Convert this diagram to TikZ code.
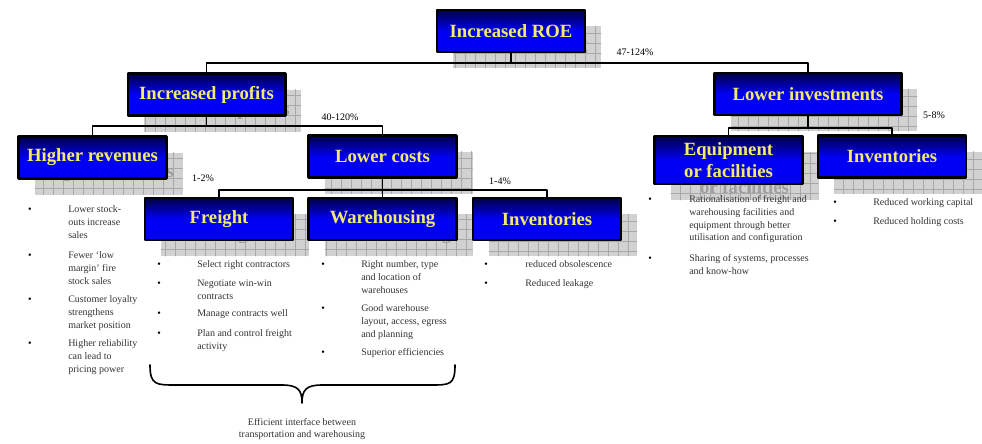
\documentclass[tikz,border=0pt]{standalone}
\usepackage{fontspec}
\setmainfont{Liberation Serif}
\usetikzlibrary{calc}
\definecolor{boxdark}{rgb}{0,0,0.28}
\definecolor{boxblue}{rgb}{0,0,0.95}
\definecolor{boxtext}{rgb}{0.96,0.92,0.42}
\definecolor{shadefill}{rgb}{0.82,0.82,0.82}
\definecolor{shadegrid}{rgb}{0.66,0.66,0.66}
\definecolor{shadetext}{rgb}{0.62,0.62,0.62}

\tikzset{
  chartbox/.style={draw=black,line width=2pt,top color=boxdark,bottom color=boxblue,middle color=boxblue,
    text=boxtext,font=\fontsize{14}{16}\selectfont\bfseries,align=center,
    minimum width=111pt,minimum height=31.5pt,inner sep=2pt},
  boxshade/.style={fill=shadefill,text=shadetext,font=\fontsize{14}{16}\selectfont\bfseries,align=center,
    minimum width=111pt,minimum height=31.5pt,inner sep=2pt,
    path picture={\draw[shadegrid,line width=0.4pt,step=7.5pt] (path picture bounding box.south west) grid (path picture bounding box.north east);}},
  link/.style={line width=1.3pt},
  pct/.style={font=\fontsize{7.5}{9.5}\selectfont,inner sep=0pt},
  dot/.style={font=\fontsize{7.5}{9.5}\selectfont,inner sep=0pt},
  item/.style={anchor=north west,inner sep=0pt,align=left,font=\fontsize{7.5}{9.5}\selectfont,text=black!80}
}

% box with its grid shadow
\newcommand{\chartnode}[4][]{%
  \node[boxshade,#1] (#2-sh) at ([shift={(16,16)}]#3) {#4};
  \node[chartbox,#1] (#2) at (#3) {#4};
}

\begin{document}
\begin{tikzpicture}[line cap=round,line join=round,x=0.75pt,y=-0.75pt]
\useasboundingbox (0,0) rectangle (982,443);

% boxes
\chartnode{roe}{511,31}{Increased ROE}
\chartnode[minimum width=118pt]{prof}{206.5,94.5}{Increased profits}
\chartnode[minimum width=140pt]{lowinv}{808,94}{Lower investments}
\chartnode{rev}{92.5,157.5}{Higher revenues}
\chartnode{costs}{382.5,156.5}{Lower costs}
\chartnode[minimum height=36pt]{equip}{728.5,160}{Equipment\\or facilities}
\chartnode{invinv}{892,156.5}{Inventories}
\chartnode{freight}{219,219}{Freight}
\chartnode{wareh}{382.5,219}{Warehousing}
\chartnode{invcost}{547,219}{Inventories}

% connectors
\draw[link] (roe.south) -- ++(0,10) -| (prof.north);
\draw[link] (roe.south) -- ++(0,10) -| (lowinv.north);
\draw[link] (prof.south) -- ++(0,9) -| (rev.north);
\draw[link] (prof.south) -- ++(0,9) -| (costs.north);
\draw[link] (costs.south) -- ++(0,11) -| (freight.north);
\draw[link] (costs.south) -- ++(0,11) -| (wareh.north);
\draw[link] (costs.south) -- ++(0,11) -| (invcost.north);
\draw[link] (lowinv.south) -- ++(0,12) -| (equip.north);
\draw[link] (lowinv.south) -- ++(0,12) -| (invinv.north);

% percentages
\node[pct] (p-roe) at (635,52) {47-124\%};
\node[pct] (p-prof) at (340,117) {40-120\%};
\node[pct] (p-rev) at (203,178) {1-2\%};
\node[pct] (p-costs) at (500,181) {1-4\%};
\node[pct] (p-inv) at (934,115) {5-8\%};

% bullet lists
\foreach \yy/\txt [count=\i] in {210/{Lower stock-\\outs increase\\sales},256/{Fewer ‘low\\margin’ fire\\stock sales},300/{Customer loyalty\\strengthens\\market position},344/{Higher reliability\\can lead to\\pricing power}}{
  \node[dot] (rev-b\i) at (30,\yy) {•};
  \node[item] (rev-t\i) at (68,\yy-4.5) {\txt};
}
\foreach \yy/\txt [count=\i] in {265/{Select right contractors},284/{Negotiate win-win\\contracts},314/{Manage contracts well},334/{Plan and control freight\\activity}}{
  \node[dot] (fr-b\i) at (159,\yy) {•};
  \node[item] (fr-t\i) at (197,\yy-4.5) {\txt};
}
\foreach \yy/\txt [count=\i] in {265/{Right number, type\\and location of\\warehouses},309/{Good warehouse\\layout, access, egress\\and planning},353/{Superior efficiencies}}{
  \node[dot] (wh-b\i) at (323,\yy) {•};
  \node[item] (wh-t\i) at (361,\yy-4.5) {\txt};
}
\foreach \yy/\txt [count=\i] in {265/{reduced obsolescence},284/{Reduced leakage}}{
  \node[dot] (ic-b\i) at (486,\yy) {•};
  \node[item] (ic-t\i) at (525,\yy-4.5) {\txt};
}
\foreach \yy/\txt [count=\i] in {200/{Rationalisation of freight and\\warehousing facilities and\\equipment through better\\utilisation and configuration},259/{Sharing of systems, processes\\and know-how}}{
  \node[dot] (eq-b\i) at (650,\yy) {•};
  \node[item] (eq-t\i) at (689,\yy-4.5) {\txt};
}
\foreach \yy/\txt [count=\i] in {203/{Reduced working capital},222/{Reduced holding costs}}{
  \node[dot] (ii-b\i) at (835,\yy) {•};
  \node[item] (ii-t\i) at (873,\yy-4.5) {\txt};
}

% brace under freight and warehousing
\coordinate (brL) at (150,365);
\coordinate (brR) at (455,365);
\coordinate (brT) at (302,403);
\draw[line width=1.2pt] (brL) .. controls (150,385) and (156,385) .. (176,385) -- (282,385)
  .. controls (298,385) and (302,390) .. (brT)
  .. controls (302,390) and (306,385) .. (322,385) -- (430,385)
  .. controls (450,385) and (455,385) .. (brR);
\node[pct,align=center,text=black!80] (foot) at (302,429) {Efficient interface between\\transportation and warehousing};
\end{tikzpicture}
\end{document}
